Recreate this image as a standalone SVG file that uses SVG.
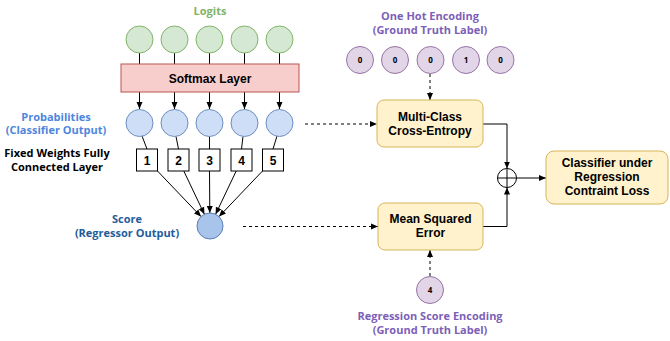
<svg xmlns="http://www.w3.org/2000/svg" width="670" height="341" viewBox="0 0 670 341">
<style>
.lbl{font-family:"Open Sans","Noto Sans",sans-serif;font-weight:bold;font-size:11px;text-anchor:middle}
.nt{font-family:"Liberation Sans",Arial,sans-serif;font-weight:bold;font-size:12px;text-anchor:middle;fill:#000}
.sm{font-family:"Open Sans","Noto Sans",sans-serif;font-weight:bold;font-size:8px;text-anchor:middle;fill:#000}
.logit{fill:#d5e8d4;stroke:#82b366;stroke-width:1}
.prob{fill:#cfdef7;stroke:#6c8ebf;stroke-width:1}
.oh{fill:#e1d5e7;stroke:#9673a6;stroke-width:1}
.box{fill:#fff;stroke:#000;stroke-width:1}
.yel{fill:#fff2cc;stroke:#d6b656;stroke-width:1}
.ln{stroke:#000;stroke-width:1;fill:none}
.dash{stroke:#000;stroke-width:1;fill:none;stroke-dasharray:3 3}
</style>
<defs>
<marker id="ah" markerWidth="8" markerHeight="8" refX="7" refY="4" orient="auto" markerUnits="userSpaceOnUse">
<path d="M0,1 L7,4 L0,7 Z" fill="#000"/>
</marker>
</defs>
<rect width="670" height="341" fill="#fff"/>

<g id="labels">
<text class="lbl" x="210" y="15" fill="#82b366">Logits</text>
<text class="lbl" x="56" y="120.5" fill="#4d86dd">Probabilities</text>
<text class="lbl" x="56" y="134" fill="#4d86dd">(Classifier Output)</text>
<text class="lbl" x="57" y="157" fill="#000">Fixed Weights Fully</text>
<text class="lbl" x="57" y="171" fill="#000">Connected Layer</text>
<text class="lbl" x="127" y="222.5" fill="#1f5c99">Score</text>
<text class="lbl" x="127" y="236.5" fill="#1f5c99">(Regressor Output)</text>
<text class="lbl" x="430" y="19.5" fill="#7d5fb8">One Hot Encoding</text>
<text class="lbl" x="430" y="33.5" fill="#7d5fb8">(Ground Truth Label)</text>
<text class="lbl" x="430" y="319.5" fill="#7d5fb8">Regression Score Encoding</text>
<text class="lbl" x="430" y="333.5" fill="#7d5fb8">(Ground Truth Label)</text>
</g>

<g id="connectors">
<line class="ln" x1="139.5" y1="53" x2="139.5" y2="64"/>
<line class="ln" x1="174.5" y1="53" x2="174.5" y2="64"/>
<line class="ln" x1="209.5" y1="53" x2="209.5" y2="64"/>
<line class="ln" x1="244.5" y1="53" x2="244.5" y2="64"/>
<line class="ln" x1="279.5" y1="53" x2="279.5" y2="64"/>
<line class="ln" x1="139.5" y1="92" x2="139.5" y2="109" marker-end="url(#ah)"/>
<line class="ln" x1="174.5" y1="92" x2="174.5" y2="109" marker-end="url(#ah)"/>
<line class="ln" x1="209.5" y1="92" x2="209.5" y2="109" marker-end="url(#ah)"/>
<line class="ln" x1="244.5" y1="92" x2="244.5" y2="109" marker-end="url(#ah)"/>
<line class="ln" x1="279.5" y1="92" x2="279.5" y2="109" marker-end="url(#ah)"/>
<line class="ln" x1="142" y1="136" x2="147" y2="149"/>
<line class="ln" x1="176" y1="136.5" x2="178.5" y2="149"/>
<line class="ln" x1="209.5" y1="136.5" x2="209.5" y2="149"/>
<line class="ln" x1="243" y1="136.5" x2="241.5" y2="149"/>
<line class="ln" x1="277" y1="136" x2="273" y2="149"/>
<line class="ln" x1="157.5" y1="171" x2="201" y2="216.6" marker-end="url(#ah)"/>
<line class="ln" x1="183.8" y1="171" x2="204.4" y2="214.3" marker-end="url(#ah)"/>
<line class="ln" x1="209.5" y1="171" x2="209.8" y2="213" marker-end="url(#ah)"/>
<line class="ln" x1="236.2" y1="171" x2="215.6" y2="214.3" marker-end="url(#ah)"/>
<line class="ln" x1="262.5" y1="171" x2="219" y2="216.6" marker-end="url(#ah)"/>
<line class="dash" x1="305" y1="124" x2="377" y2="124" marker-end="url(#ah)"/>
<line class="dash" x1="243" y1="226.5" x2="378" y2="226.5" marker-end="url(#ah)"/>
<line class="dash" x1="430" y1="74" x2="430" y2="100" marker-end="url(#ah)"/>
<line class="dash" x1="430" y1="276" x2="430" y2="250" marker-end="url(#ah)"/>
<polyline class="ln" points="483,124 507,124 507,168.5" marker-end="url(#ah)"/>
<polyline class="ln" points="483,226.5 507,226.5 507,187.5" marker-end="url(#ah)"/>
<line class="ln" x1="516.5" y1="178" x2="546" y2="178" marker-end="url(#ah)"/>
</g>

<g id="logits">
<circle class="logit" cx="139.5" cy="39.5" r="13.5"/>
<circle class="logit" cx="174.5" cy="39.5" r="13.5"/>
<circle class="logit" cx="209.5" cy="39.5" r="13.5"/>
<circle class="logit" cx="244.5" cy="39.5" r="13.5"/>
<circle class="logit" cx="279.5" cy="39.5" r="13.5"/>
</g>

<g id="softmax">
<rect x="121" y="64" width="178" height="28" fill="#f8cecc" stroke="#b85450"/>
<text class="nt" x="210" y="82.5">Softmax Layer</text>
</g>

<g id="probabilities">
<circle class="prob" cx="139.5" cy="123" r="13.5"/>
<circle class="prob" cx="174.5" cy="123" r="13.5"/>
<circle class="prob" cx="209.5" cy="123" r="13.5"/>
<circle class="prob" cx="244.5" cy="123" r="13.5"/>
<circle class="prob" cx="279.5" cy="123" r="13.5"/>
</g>

<g id="weights">
<rect class="box" x="136.5" y="149" width="21" height="22"/>
<text class="nt" x="147" y="164.5">1</text>
<rect class="box" x="168" y="149" width="21" height="22"/>
<text class="nt" x="178.5" y="164.5">2</text>
<rect class="box" x="199" y="149" width="21" height="22"/>
<text class="nt" x="209.5" y="164.5">3</text>
<rect class="box" x="231" y="149" width="21" height="22"/>
<text class="nt" x="241.5" y="164.5">4</text>
<rect class="box" x="262.5" y="149" width="21" height="22"/>
<text class="nt" x="273" y="164.5">5</text>
</g>

<g id="score">
<circle cx="210" cy="226" r="13" fill="#a9c4eb" stroke="#5a7fb5"/>
</g>

<g id="onehot">
<circle class="oh" cx="360" cy="60" r="13.5"/>
<text class="sm" x="360" y="63">0</text>
<circle class="oh" cx="395" cy="60" r="13.5"/>
<text class="sm" x="395" y="63">0</text>
<circle class="oh" cx="430.5" cy="60" r="13.5"/>
<text class="sm" x="430.5" y="63">0</text>
<circle class="oh" cx="466" cy="60" r="13.5"/>
<text class="sm" x="466" y="63">1</text>
<circle class="oh" cx="500.5" cy="60" r="13.5"/>
<text class="sm" x="500.5" y="63">0</text>
</g>

<g id="cross-entropy">
<rect class="yel" x="377" y="100" width="106" height="47" rx="7"/>
<text class="nt" x="430" y="121">Multi-Class</text>
<text class="nt" x="430" y="135">Cross-Entropy</text>
</g>

<g id="mse">
<rect class="yel" x="378" y="203" width="105" height="47" rx="7"/>
<text class="nt" x="430.5" y="223">Mean Squared</text>
<text class="nt" x="430.5" y="237">Error</text>
</g>

<g id="regression-label">
<circle class="oh" cx="430" cy="290" r="13.5"/>
<text class="sm" x="430" y="293">4</text>
</g>

<g id="sum">
<circle cx="507" cy="178" r="9.5" fill="#fff" stroke="#000"/>
<line class="ln" x1="498" y1="178" x2="516" y2="178"/>
<line class="ln" x1="507" y1="169" x2="507" y2="187"/>
</g>

<g id="loss">
<rect class="yel" x="546" y="151" width="122" height="53" rx="8"/>
<text class="nt" x="607" y="167">Classifier under</text>
<text class="nt" x="607" y="181">Regression</text>
<text class="nt" x="607" y="195">Contraint Loss</text>
</g>
</svg>
